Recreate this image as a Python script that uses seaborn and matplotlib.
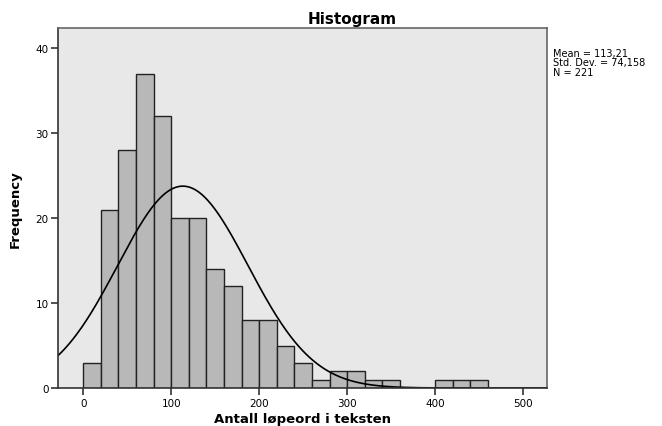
import numpy as np
import pandas as pd
import seaborn as sns
import matplotlib.pyplot as plt

# histogram bins (width 20) and counts
bin_left = [0, 20, 40, 60, 80, 100, 120, 140, 160, 180, 200, 220, 240, 260,
            280, 300, 320, 340, 360, 380, 400, 420, 440]
counts = [3, 21, 28, 37, 32, 20, 20, 14, 12, 8, 8, 5, 3, 1,
          2, 2, 1, 1, 0, 0, 1, 1, 1]
mean = 113.21
std = 74.158
n = 221
binwidth = 20

df = pd.DataFrame({"x": np.array(bin_left) + binwidth / 2, "count": counts})

sns.set_style("ticks")
plt.rcParams["text.color"] = "black"
plt.rcParams["axes.labelcolor"] = "black"
fig, ax = plt.subplots(figsize=(6.62, 4.27), dpi=100)
fig.subplots_adjust(left=0.088, right=0.826, top=0.932, bottom=0.089)
ax.set_facecolor("#e8e8e8")

sns.histplot(data=df, x="x", weights="count", binwidth=binwidth, binrange=(0, 460),
             color="#b8b8b8", edgecolor="#222222", linewidth=1.0, alpha=1, ax=ax)

# fitted normal curve
xs = np.linspace(-28.4, 527, 400)
ys = n * binwidth * np.exp(-0.5 * ((xs - mean) / std) ** 2) / (std * np.sqrt(2 * np.pi))
sns.lineplot(x=xs, y=ys, color="black", linewidth=1.2, ax=ax)

ax.set_xlim(-28.4, 527)
ax.set_ylim(0, 42.4)
ax.set_xticks([0, 100, 200, 300, 400, 500])
ax.set_yticks([0, 10, 20, 30, 40])
ax.tick_params(labelsize=7.5, length=5, width=1.2, pad=2, colors="#333333", labelcolor="black")
for s in ["left", "bottom"]:
    ax.spines[s].set_color("#333333")
    ax.spines[s].set_linewidth(1.2)
for s in ["top", "right"]:
    ax.spines[s].set_visible(True)
    ax.spines[s].set_color("#666666")
    ax.spines[s].set_linewidth(1.2)

ax.set_xlabel("Antall løpeord i teksten", fontsize=9.5, fontweight="bold", labelpad=3)
ax.set_ylabel("Frequency", fontsize=9.5, fontweight="bold", labelpad=10)
fig.text(0.532, 0.955, "Histogram", ha="center", va="center", fontsize=11, fontweight="bold")
fig.text(0.836, 0.885, "Mean = 113,21\nStd. Dev. = 74,158\nN = 221", ha="left", va="top",
         fontsize=7, linespacing=0.9)

fig.savefig("out.png", dpi=100)
